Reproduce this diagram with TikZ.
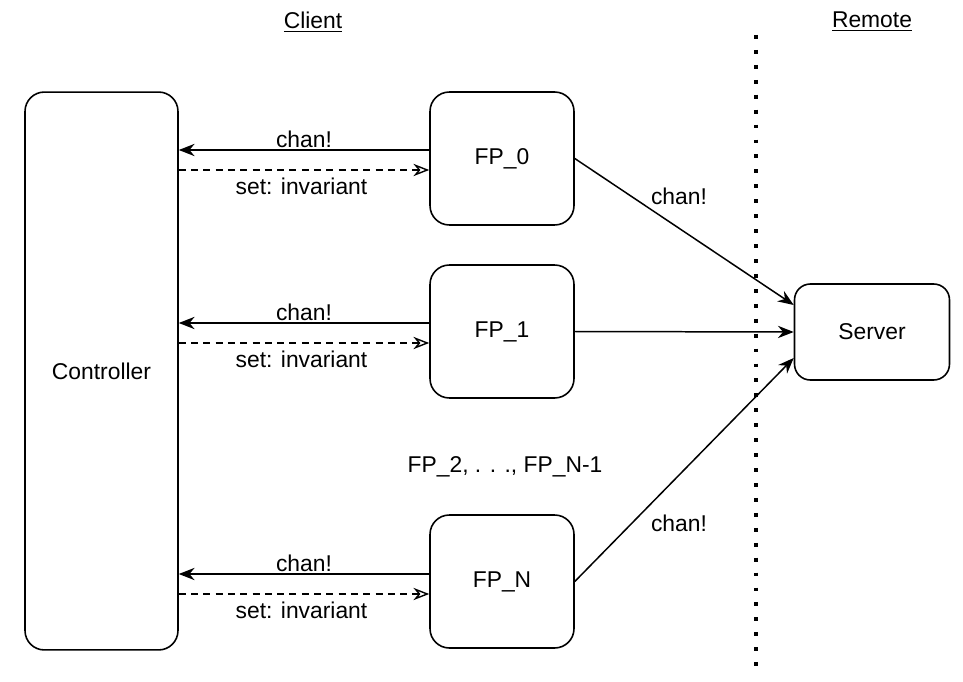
\documentclass[tikz,border=0pt]{standalone}
\usepackage{fontspec}
\setmainfont{Liberation Sans}
\usetikzlibrary{arrows.meta,calc}

\tikzstyle{box}=[draw, line width=0.9pt, rounded corners=11pt, align=center, font=\fontsize{13}{15}\selectfont]
\tikzstyle{lbl}=[font=\fontsize{13}{15}\selectfont, inner sep=1pt]
\tikzstyle{msg}=[-{Stealth[length=9pt, width=7pt]}, line width=0.85pt]
\tikzstyle{setmsg}=[-{Stealth[open, length=9pt, width=7pt]}, line width=0.8pt, dash pattern=on 4pt off 3pt]

\begin{document}
\begin{tikzpicture}[x=0.02cm, y=-0.02cm]
    \useasboundingbox (0, 0) rectangle (963, 682);
    \node[box, minimum width=3.06cm, minimum height=11.16cm] (controller) at (101.5, 371) {Controller};
    \node[box, minimum width=2.88cm, minimum height=2.66cm] (fp0) at (502, 158.5) {FP\_0};
    \node[box, minimum width=2.88cm, minimum height=2.66cm] (fp1) at (502, 331.5) {FP\_1};
    \node[box, minimum width=2.88cm, minimum height=2.66cm] (fpn) at (502, 581.5) {FP\_N};
    \node[box, rounded corners=9pt, minimum width=3.1cm, minimum height=1.92cm] (server) at (872, 332) {Server};
    \node[lbl] (client) at (313, 22) {\underline{Client}};
    \node[lbl] (remote) at (872, 22) {\underline{Remote}};
    \node[lbl] (others) at (505, 467) {FP\_2, . . ., FP\_N-1};
    \coordinate (divtop) at (756, 35);
    \coordinate (divbot) at (756, 668);
    \draw[line width=2.2pt, dash pattern=on 2.2pt off 6.3pt] (divtop) -- (divbot);
    \draw[msg] ($(fp0.west)+(0,-8.5)$) to node[lbl, above] (chan0) {chan!} ($(controller.east |- fp0.west)+(0,-8.5)$);
    \draw[setmsg] ($(controller.east |- fp0.west)+(0,11.5)$) to node[lbl, below=3pt, pos=0.49] (set0) {set: invariant} ($(fp0.west)+(0,11.5)$);
    \draw[msg] ($(fp1.west)+(0,-8.5)$) to node[lbl, above] (chan1) {chan!} ($(controller.east |- fp1.west)+(0,-8.5)$);
    \draw[setmsg] ($(controller.east |- fp1.west)+(0,11.5)$) to node[lbl, below=3pt, pos=0.49] (set1) {set: invariant} ($(fp1.west)+(0,11.5)$);
    \draw[msg] ($(fpn.west)+(0,-7.5)$) to node[lbl, above] (chann) {chan!} ($(controller.east |- fpn.west)+(0,-7.5)$);
    \draw[setmsg] ($(controller.east |- fpn.west)+(0,12.5)$) to node[lbl, below=3pt, pos=0.49] (setn) {set: invariant} ($(fpn.west)+(0,12.5)$);
    \draw[msg] (fp0.east) to ($(server.west)+(0,-27)$);
    \draw[msg] (fp1.east) to (server.west);
    \draw[msg] (fpn.east) to ($(server.west)+(0,26)$);
    \node[lbl] (chanup) at (679, 196) {chan!};
    \node[lbl] (chandown) at (679, 523) {chan!};
  \end{tikzpicture}
\end{document}
